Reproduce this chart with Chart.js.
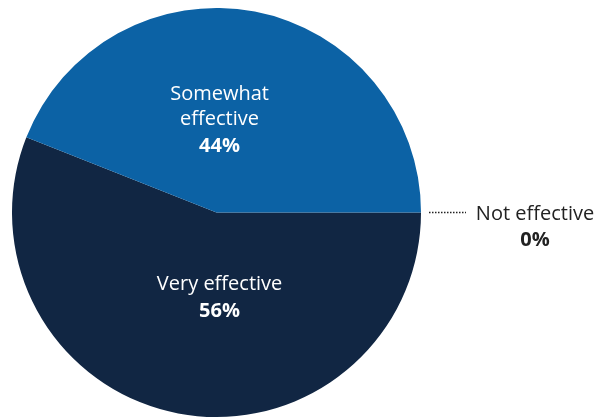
<!DOCTYPE html>
<html>
<head>
<meta charset="utf-8">
<script src="https://cdn.jsdelivr.net/npm/chart.js@4.4.1/dist/chart.umd.min.js"></script>
<style>
  html, body { margin: 0; padding: 0; background: #ffffff; }
  #wrap { width: 595px; height: 417px; position: relative; }
</style>
</head>
<body>
<div id="wrap"><canvas id="c" width="595" height="417"></canvas></div>
<script>
const categories = ["Very effective", "Somewhat effective", "Not effective"];
const values = [56, 44, 0];
const valueLabels = ["56%", "44%", "0%"];
const labelLines = [["Very effective"], ["Somewhat", "effective"], ["Not effective"]];
const colors = ["#112643", "#0C62A5", "#999999"];

const FONT = "'Open Sans', Lato, sans-serif";

const labelPlugin = {
  id: 'pieLabels',
  afterDraw(chart) {
    const ctx = chart.ctx;
    const arcs = chart.getDatasetMeta(0).data;
    ctx.save();
    ctx.textAlign = 'center';
    ctx.textBaseline = 'alphabetic';
    arcs.forEach((arc, i) => {
      const cx = arc.x, cy = arc.y, r = arc.outerRadius;
      const lines = labelLines[i];
      if (values[i] === 0) {
        const ang = arc.startAngle;
        const x0 = cx + Math.cos(ang) * (r + 8);
        const y0 = cy + Math.sin(ang) * (r + 8);
        ctx.strokeStyle = '#222222';
        ctx.lineWidth = 1.5;
        ctx.setLineDash([1.5, 1.5]);
        ctx.beginPath();
        ctx.moveTo(x0, y0);
        ctx.lineTo(x0 + 37, y0);
        ctx.stroke();
        ctx.setLineDash([]);
        const tx = x0 + 106;
        ctx.fillStyle = '#222222';
        ctx.font = "20px " + FONT;
        ctx.fillText(lines[0], tx, y0 + 7);
        ctx.font = "bold 20px " + FONT;
        ctx.fillText(valueLabels[i], tx, y0 + 33.5);
      } else {
        ctx.fillStyle = '#ffffff';
        const tx = cx + 0.015 * r;
        let by;
        if (i === 1) by = cy - 0.55 * r; else by = cy + 0.379 * r;
        ctx.font = "20px " + FONT;
        lines.forEach((ln, k) => {
          ctx.fillText(ln, tx, by + k * 25);
        });
        ctx.font = "bold 20px " + FONT;
        ctx.fillText(valueLabels[i], tx, by + (lines.length - 1) * 25 + 26.5);
      }
    });
    ctx.restore();
  }
};

new Chart(document.getElementById('c'), {
  type: 'pie',
  data: {
    labels: categories,
    datasets: [{
      data: values,
      backgroundColor: colors,
      borderWidth: 0
    }]
  },
  options: {
    responsive: false,
    animation: false,
    rotation: 90,
    layout: { padding: { left: 12, right: 174, top: 8, bottom: 0 } },
    plugins: {
      legend: { display: false },
      tooltip: { enabled: false }
    }
  },
  plugins: [labelPlugin]
});
</script>
</body>
</html>
